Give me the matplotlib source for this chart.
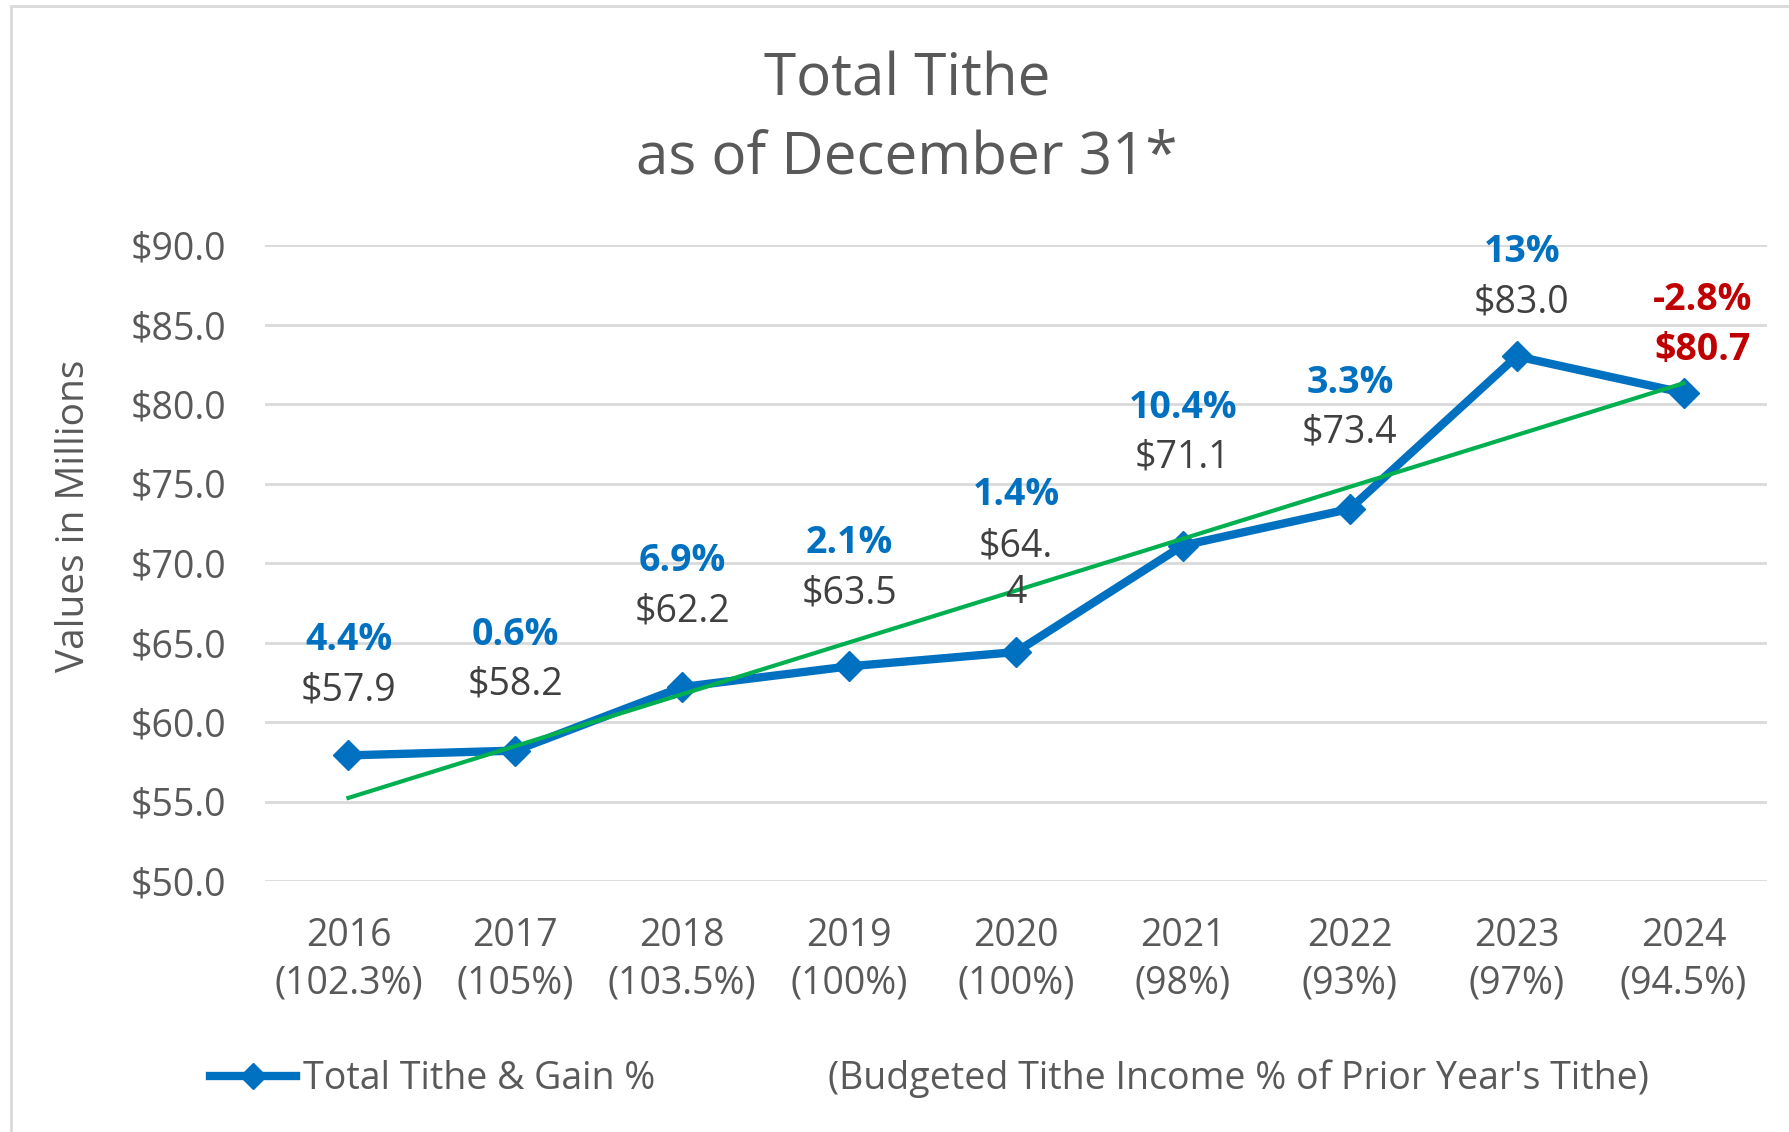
import matplotlib
matplotlib.use('Agg')
import matplotlib.pyplot as plt
import numpy as np
from matplotlib.lines import Line2D
from matplotlib.patches import Rectangle

matplotlib.rc('font', family=['Open Sans', 'DejaVu Sans'], size=27)

years = ['2016', '2017', '2018', '2019', '2020', '2021', '2022', '2023', '2024']
budget_pct = ['102.3%', '105%', '103.5%', '100%', '100%', '98%', '93%', '97%', '94.5%']
tithe = [57.9, 58.2, 62.2, 63.5, 64.4, 71.1, 73.4, 83.0, 80.7]
gain_pct = ['4.4%', '0.6%', '6.9%', '2.1%', '1.4%', '10.4%', '3.3%', '13%', '-2.8%']
value_labels = ['$57.9', '$58.2', '$62.2', '$63.5', '$64.\n4', '$71.1', '$73.4', '$83.0', '$80.7']

# label placement (pixels above the point, as in the original)
label_dy = [65, 66, 76, 73, 82, 88, 76, 54, 43]
label_dx = [0, 0, 0, 0, 0, 0, 0, 5, 19]

BLUE = '#0070C0'
GREEN = '#00B050'
RED = '#C00000'
GRAY = '#595959'
DARK = '#404040'

fig = plt.figure(figsize=(17.9, 11.32), dpi=100)
ax = fig.add_axes([265 / 1790, 1 - 881 / 1132, 1502 / 1790, 636 / 1132])

x = np.arange(len(years))
ax.plot(x, tithe, color=BLUE, lw=6, marker='D', ms=15, solid_joinstyle='miter', zorder=3)

coef = np.polyfit(x, tithe, 1)
ax.plot(x, np.polyval(coef, x), color=GREEN, lw=3, zorder=4)

for i in range(len(years)):
    last = i == len(years) - 1
    vcol = RED if last else DARK
    vw = 'bold' if last else 'normal'
    pcol = RED if last else BLUE
    ax.annotate(value_labels[i], (x[i], tithe[i]), xytext=(label_dx[i], label_dy[i]),
                textcoords='offset pixels', ha='center', va='center', color=vcol,
                fontweight=vw, linespacing=1.3, zorder=5)
    extra = 25 if '\n' in value_labels[i] else 0
    ax.annotate(gain_pct[i], (x[i], tithe[i]), xytext=(label_dx[i], label_dy[i] + 50 + extra),
                textcoords='offset pixels', ha='center', va='center', color=pcol,
                fontweight='bold', zorder=5)

ax.set_xlim(-0.5, len(years) - 0.5)
ax.set_ylim(50, 90)
ax.set_yticks(np.arange(50, 91, 5))
ax.set_yticklabels(['${:.1f}'.format(v) for v in np.arange(50, 91, 5)], color=GRAY)
ax.set_xticks(x)
ax.set_xticklabels(['{}\n({})'.format(y, b) for y, b in zip(years, budget_pct)],
                   color=GRAY, linespacing=1.32)
ax.tick_params(axis='both', length=0)
ax.tick_params(axis='y', pad=28)
ax.tick_params(axis='x', pad=26)
ax.grid(axis='y', color='#d9d9d9', lw=2)
ax.set_axisbelow(True)
for s in ax.spines.values():
    s.set_visible(False)

fig.text(74 / 1790, 1 - 516 / 1132, 'Values in Millions', rotation=90,
         ha='center', va='center', color=GRAY, fontsize=28)

fig.text(0.5 + 12 / 1790, 1 - 80 / 1132, 'Total Tithe', ha='center', va='center',
         fontsize=42, color=GRAY)
fig.text(0.5 + 12 / 1790, 1 - 158 / 1132, 'as of December 31*', ha='center', va='center',
         fontsize=42, color=GRAY)

# legend
handle = Line2D([], [], color=BLUE, lw=6, marker='D', ms=13)
fig.legend([handle], ['Total Tithe & Gain %'], loc='center left',
           bbox_to_anchor=(176 / 1790, 1 - 1079 / 1132), frameon=False,
           handlelength=2.3, handletextpad=0.2, labelcolor=GRAY)
fig.text(828 / 1790, 1 - 1079 / 1132, "(Budgeted Tithe Income % of Prior Year's Tithe)",
         ha='left', va='center', color=GRAY, fontsize=27)

fig.patches.append(Rectangle((11 / 1790, -0.05), 1.1, 1.05 - 6 / 1132,
                             transform=fig.transFigure, fill=False,
                             edgecolor='#d9d9d9', lw=2))

plt.savefig('out.png', format='png', dpi=100)
